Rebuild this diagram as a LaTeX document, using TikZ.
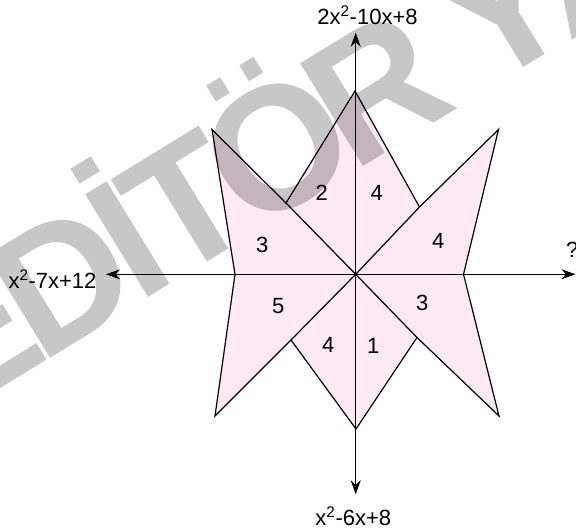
\documentclass[tikz,border=0pt]{standalone}
\usepackage{fontspec}
\setmainfont{Liberation Sans}
\usetikzlibrary{arrows.meta}
\definecolor{starfill}{RGB}{252,233,241}
\definecolor{wmgray}{RGB}{199,199,199}
\definecolor{wmover}{RGB}{196,181,188}
\tikzset{
  edge/.style={line width=1.2pt, line join=miter},
  axisline/.style={line width=1.2pt, {Stealth[length=14pt,width=10pt,inset=4.5pt]}-{Stealth[length=14pt,width=10pt,inset=4.5pt]}},
  lbl/.style={font=\fontsize{22}{26}\selectfont, inner sep=0pt},
  wmch/.style={font=\fontsize{175}{180}\selectfont\bfseries, inner sep=0pt, anchor=base, rotate=31.5},
}
\newcommand\wmletters[2]{%
  \node[wmch, text=#1] (#2E) at (3.0,387.1) {E};
  \node[wmch, text=#1] (#2D) at (94.0,331.2) {D};
  \node[wmch, text=#1] (#2I) at (159.5,291.0) {İ};
  \node[wmch, text=#1] (#2T) at (217.7,255.3) {T};
  \node[wmch, text=#1] (#2O) at (308.7,199.4) {Ö};
  \node[wmch, text=#1] (#2R) at (407.0,139.1) {R};
  \node[wmch, text=#1] (#2Y) at (534.4,60.9) {Y};
  \node[wmch, text=#1] (#2A) at (622.4,9.1) {A};
}
\begin{document}
\begin{tikzpicture}[x=1pt,y=-1pt]
\useasboundingbox (0,0) rectangle (576,532);
% star vertices
\coordinate (A) at (355,91);
\coordinate (B) at (419.5,207);
\coordinate (C) at (498.5,129.5);
\coordinate (D) at (463.5,274.3);
\coordinate (E) at (499,416);
\coordinate (F) at (417,337.5);
\coordinate (G) at (356,429);
\coordinate (H) at (291,340);
\coordinate (I) at (215,416);
\coordinate (J) at (235,274.3);
\coordinate (K) at (212,129.5);
\coordinate (L) at (286,203);
\coordinate (O) at (355.7,274.3);
% axis ends
\coordinate (top) at (355.7,32.7);
\coordinate (bot) at (355.7,494.3);
\coordinate (left) at (106,274.3);
\coordinate (right) at (575.5,274.3);
\def\starpath{(A) -- (B) -- (C) -- (D) -- (E) -- (F) -- (G) -- (H) -- (I) -- (J) -- (K) -- (L) -- cycle}
\fill[starfill] \starpath;
% watermark
\wmletters{wmgray}{wg}
\begin{scope}
  \clip \starpath;
  \wmletters{wmover}{wm}
\end{scope}
% star outline and inner lines
\draw[edge] \starpath;
\draw[edge] (L) -- (O) -- (B);
\draw[edge] (H) -- (O) -- (F);
% axes
\draw[axisline] (bot) -- (top);
\draw[axisline] (left) -- (right);
% axis labels
\node[lbl, anchor=base] (ltop) at (367.5,24.5) {2x\textsuperscript{2}-10x+8};
\node[lbl, anchor=base] (lbot) at (353.3,525) {x\textsuperscript{2}-6x+8};
\node[lbl, anchor=base] (lleft) at (52.5,288.3) {x\textsuperscript{2}-7x+12};
\node[lbl, anchor=base west] (lright) at (566,257.5) {?};
% region numbers
\node[lbl] (r1) at (321.7,192.7) {2};
\node[lbl] (r2) at (376.7,192.7) {4};
\node[lbl] (r3) at (262.3,245) {3};
\node[lbl] (r4) at (438.3,241) {4};
\node[lbl] (r5) at (278.3,306) {5};
\node[lbl] (r6) at (422.3,302.7) {3};
\node[lbl] (r7) at (328.3,345) {4};
\node[lbl] (r8) at (373.3,346) {1};
\end{tikzpicture}
\end{document}
